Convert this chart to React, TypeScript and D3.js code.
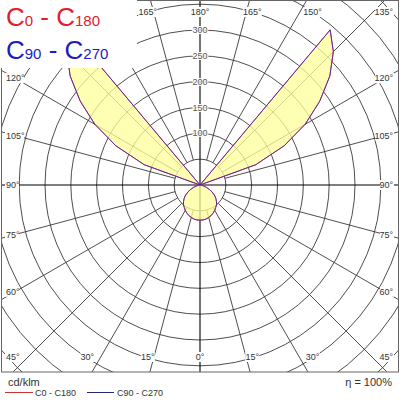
import React from 'react';
import * as d3 from 'd3';

// gamma angles (deg, 0 = straight down, 180 = straight up)
const gammaAngles = [0,5,10,15,20,25,30,35,40,45,50,55,60,65,70,75,80,85,90,95,100,105,110,115,120,125,130,135,140,145,150,155,160,165,170,175,180];
// luminous intensity (cd/klm)
const intensityC0C180 = [68,68,67,65,63,60,57,53,50,45,40,34,27,20,13,7,3,1,0,0,0,0,115,180,235,283,328,365,392,0,0,0,0,0,0,0,0];
const intensityC90C270 = [68,68,67,65,63,60,57,53,50,45,40,34,27,20,13,7,3,1,0,0,0,0,115,180,235,283,328,365,392,0,0,0,0,0,0,0,0];
const ringValues = [50,100,150,200,250,300,350,400,450,500];
const ringLabels = [100,150,200,250,300];
const angleTicks = [0,15,30,45,60,75,90,105,120,135,150,165,180];
const seriesNames = ['C0 - C180', 'C90 - C270'];

const CX = 200, CY = 185;
const FONT = '"Liberation Sans", Arial, sans-serif';
const RED = '#e3202a';
const BLUE = '#2a2ad0';
const LEGEND_BOX = { w: 137, h: 68 };

export default function App() {
  const r = d3.scaleLinear().domain([0, 300]).range([0, 155]);
  const rad = (deg: number) => (deg * Math.PI) / 180;
  const radial = d3.lineRadial<[number, number]>()
    .angle(d => d[0]).radius(d => d[1]).curve(d3.curveLinearClosed);

  const planePath = (vals: number[]) => {
    const right = gammaAngles.map((g, i) => [Math.PI - rad(g), r(vals[i])] as [number, number]);
    const left: [number, number][] = [];
    for (let i = gammaAngles.length - 1; i >= 0; i--) left.push([Math.PI + rad(gammaAngles[i]), r(vals[i])]);
    return radial([...right, ...left]) || '';
  };

  // radial grid lines
  const spokes: { x1: number; y1: number; x2: number; y2: number }[] = [];
  angleTicks.forEach(a => {
    if (a === 0 || a === 90 || a === 180) return;
    [1, -1].forEach(side => {
      const dx = side * Math.sin(rad(a)), dy = Math.cos(rad(a));
      spokes.push({ x1: CX + dx * r(50), y1: CY + dy * r(50), x2: CX + dx * r(800), y2: CY + dy * r(800) });
    });
  });

  // angle labels
  const labels: { x: number; y: number; anchor: string; text: string }[] = [];
  angleTicks.forEach(a => {
    const sides = a === 0 || a === 180 ? [1] : [-1, 1];
    sides.forEach(side => {
      let x = CX, y = CY, anchor = 'middle';
      if (a < 45) { x = CX + side * 195 * Math.tan(rad(a)); y = 357; }
      else if (a === 45) { y = 357; x = side < 0 ? 6 : 393; anchor = side < 0 ? 'start' : 'end'; }
      else if (a < 135) { y = CY - 185 * Math.tan(rad(a - 90)); x = side < 0 ? 6 : 393; anchor = side < 0 ? 'start' : 'end'; }
      else if (a === 135) { y = 12; x = side < 0 ? 6 : 393; anchor = side < 0 ? 'start' : 'end'; }
      else { x = CX + side * 195 * Math.tan(rad(180 - a)); y = 12; }
      // labels hidden behind the legend box are not drawn
      if (x < LEGEND_BOX.w && y < LEGEND_BOX.h) return;
      labels.push({ x, y, anchor, text: `${a}°` });
    });
  });

  const labelW = (t: string) => (t.length - 1) * 5 + 4;

  return (
    <svg width={400} height={400} style={{ position: 'absolute', left: 0, top: 0, display: 'block', background: '#fff' }}
      fontFamily={FONT}>
      <defs>
        <clipPath id="frameClip"><rect x={2} y={1} width={396} height={371} /></clipPath>
      </defs>
      <rect x={0} y={0} width={400} height={400} fill="#fff" />
      <g clipPath="url(#frameClip)">
        {ringValues.map(v => (
          <circle key={v} cx={CX} cy={CY} r={r(v)} fill="none" stroke="#3a3a3a" strokeWidth={0.9} />
        ))}
        {spokes.map((s, i) => (
          <line key={i} x1={s.x1} y1={s.y1} x2={s.x2} y2={s.y2} stroke="#3a3a3a" strokeWidth={0.9} />
        ))}
        <line x1={CX} y1={0} x2={CX} y2={372} stroke="#000" strokeWidth={1.1} />
        <line x1={0} y1={CY} x2={400} y2={CY} stroke="#000" strokeWidth={1.1} />
        {/* intensity fills */}
        <path d={planePath(intensityC0C180)} transform={`translate(${CX},${CY})`} fill="#ffff99" fillOpacity={0.5} stroke="none" />
        <path d={planePath(intensityC90C270)} transform={`translate(${CX},${CY})`} fill="#ffff99" fillOpacity={0.5} stroke="none" />
        {/* outlines */}
        <path d={planePath(intensityC0C180)} transform={`translate(${CX},${CY})`} fill="none" stroke={RED} strokeWidth={1} />
        <path d={planePath(intensityC90C270)} transform={`translate(${CX},${CY})`} fill="none" stroke={BLUE} strokeWidth={1} strokeOpacity={0.7} />
        {/* ring labels */}
        {ringLabels.map(v => (
          <text key={v} x={CX} y={CY - r(v)} dy="0.35em" textAnchor="middle" fontSize={9} fill="#555"
            stroke="#fff" strokeWidth={2} paintOrder="stroke">{v}</text>
        ))}
        {/* angle labels */}
        {labels.map((l, i) => {
          const w = labelW(l.text);
          const x0 = l.anchor === 'start' ? l.x - 1 : l.anchor === 'end' ? l.x - w + 1 : l.x - w / 2;
          return (
            <g key={i}>
              <rect x={x0} y={l.y - 5} width={w} height={10} fill="#fff" />
              <text x={l.x} y={l.y} dy="0.35em" textAnchor={l.anchor as any} fontSize={9} fill="#333">{l.text}</text>
            </g>
          );
        })}
      </g>
      <rect x={1.5} y={0.5} width={397} height={371.5} fill="none" stroke="#666" strokeWidth={1} />
      {/* top-left legend */}
      <rect x={0} y={0} width={LEGEND_BOX.w} height={LEGEND_BOX.h} fill="#fff" />
      <text x={6} y={26} fill={RED} fontSize={26}>C<tspan fontSize={15}>0</tspan> - C<tspan fontSize={15}>180</tspan></text>
      <text x={6} y={59} fill="#1c1cc4" fontSize={26}>C<tspan fontSize={15}>90</tspan> - C<tspan fontSize={15}>270</tspan></text>
      {/* bottom legend */}
      <text x={8} y={386} fontSize={11} fill="#333">cd/klm</text>
      <text x={392} y={386} fontSize={11} fill="#333" textAnchor="end">η = 100%</text>
      <line x1={5} y1={392.5} x2={33} y2={392.5} stroke="#c83232" strokeWidth={1} />
      <text x={35} y={396} fontSize={9} fill="#333">{seriesNames[0]}</text>
      <line x1={87} y1={392.5} x2={114} y2={392.5} stroke="#28287a" strokeWidth={1} />
      <text x={117} y={396} fontSize={9} fill="#333">{seriesNames[1]}</text>
    </svg>
  );
}
